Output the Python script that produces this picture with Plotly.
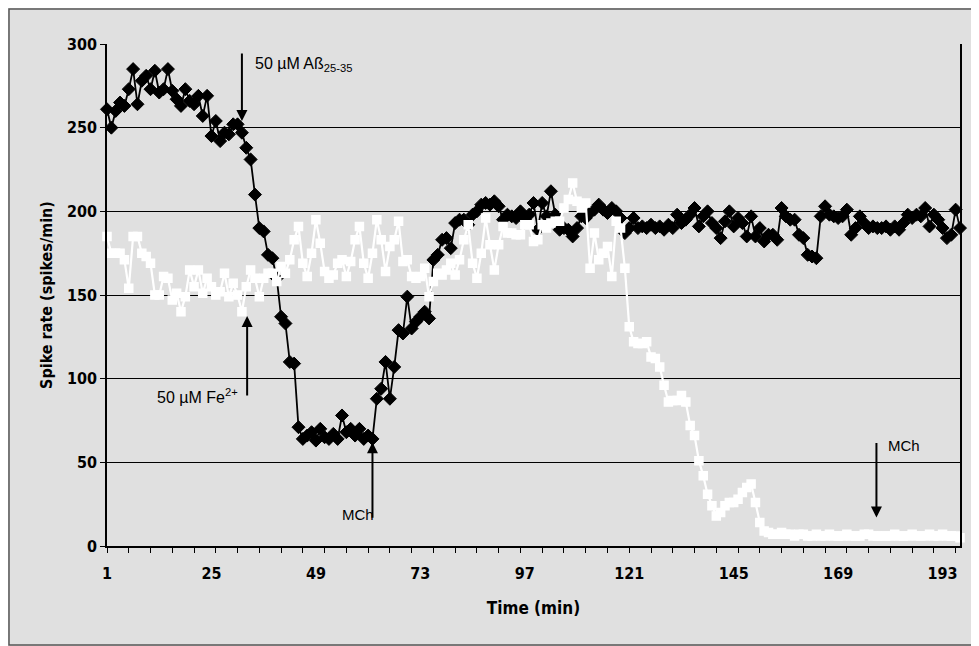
import plotly.graph_objects as go

# ---- data ----
black_ab = [
    261, 250, 260, 265, 263, 273, 285, 264, 278, 281,
    273, 284, 271, 273, 285, 272, 267, 263, 273, 266,
    264, 269, 257, 269, 245, 254, 242, 247, 246, 252,
    252, 247, 238, 231, 210, 190, 188, 174, 172, 160,
    137, 133, 110, 109, 71, 64, 66, 68, 63, 70,
    65, 64, 67, 64, 78, 68, 70, 66, 70, 64,
    66, 64, 88, 94, 110, 88, 107, 129, 127, 149,
    130, 134, 137, 140, 136, 171, 174, 183, 184, 178,
    193, 195, 195, 192, 198, 200, 204, 205, 204, 206,
    203, 195, 198, 197, 196, 200, 195, 198, 205, 189,
    205, 197, 212, 198, 189, 190, 189, 185, 190, 197,
    196, 199, 201, 204, 201, 199, 202, 200, 196, 187,
    190, 196, 190, 191, 190, 192, 190, 191, 189, 192,
    190, 198, 193, 195, 198, 202, 191, 197, 200, 193,
    190, 184, 194, 200, 191, 196, 193, 185, 197, 185,
    190, 182, 186, 186, 183, 202, 197, 195, 195, 186,
    184, 174, 173, 172, 197, 203, 198, 197, 196, 197,
    201, 186, 190, 197, 193, 190, 191, 190, 190, 191,
    189, 191, 189, 193, 198, 196, 198, 197, 202, 191,
    198, 195, 190, 184, 186, 201, 190,
]
white_fe = [
    185, 175, 175, 175, 171, 154, 185, 185, 175, 173,
    169, 150, 150, 161, 160, 147, 151, 140, 149, 165,
    155, 165, 151, 160, 155, 150, 152, 163, 149, 157,
    150, 140, 155, 165, 160, 149, 160, 163, 163, 158,
    167, 163, 171, 183, 191, 169, 161, 175, 195, 181,
    164, 160, 162, 169, 171, 161, 170, 183, 191, 169,
    160, 175, 195, 183, 164, 179, 183, 194, 170, 171,
    161, 160, 161, 166, 149, 158, 163, 162, 165, 169,
    162, 171, 183, 192, 169, 160, 175, 196, 180, 165,
    180, 191, 187, 187, 186, 186, 192, 192, 182, 183,
    192, 190, 193, 194, 194, 202, 207, 217, 206, 202,
    205, 166, 187, 171, 175, 179, 161, 194, 190, 166,
    131, 122, 121, 121, 122, 113, 112, 107, 96, 86,
    87, 87, 90, 86, 72, 66, 51, 42, 31, 24,
    18, 20, 24, 26, 26, 28, 32, 35, 37, 26,
    14, 9, 8, 7, 7, 8, 7, 7, 6, 7,
    7, 6, 6, 7, 6, 6, 7, 6, 6, 6,
    7, 6, 6, 6, 7, 7, 6, 6, 6, 6,
    6, 7, 6, 6, 6, 7, 6, 6, 6, 7,
    6, 6, 7, 6, 6, 6, 5,
]
minutes = list(range(1, len(black_ab) + 1))
x_tick_vals = [1, 25, 49, 73, 97, 121, 145, 169, 193]
x_tick_text = [str(v) for v in x_tick_vals]
y_tick_vals = [0, 50, 100, 150, 200, 250, 300]

BG = "#e0e0e0"
FONT = "DejaVu Sans Condensed, Liberation Sans Narrow, Arial Narrow, sans-serif"
FONT_REG = "Liberation Sans, Arial, sans-serif"

fig = go.Figure()
fig.add_trace(go.Scatter(
    x=minutes, y=black_ab, mode="lines+markers",
    line=dict(color="black", width=1.8),
    marker=dict(symbol="diamond", size=10, color="black",
                line=dict(color="black", width=1)),
    cliponaxis=False, showlegend=False,
))
fig.add_trace(go.Scatter(
    x=minutes[:len(white_fe)], y=white_fe, mode="lines+markers",
    line=dict(color="white", width=2.2),
    marker=dict(symbol="square", size=8, color="white",
                line=dict(color="white", width=1.5)),
    cliponaxis=False, showlegend=False,
))

arrow = dict(showarrow=True, arrowhead=2, arrowsize=1.1, arrowwidth=2,
             arrowcolor="black", text="", axref="pixel", ayref="pixel",
             xref="x", yref="y")
fig.add_annotation(x=32.0, y=254, ax=0, ay=-69, **arrow)
fig.add_annotation(x=33.2, y=137.5, ax=0, ay=81, **arrow)
fig.add_annotation(x=62.0, y=62, ax=0, ay=77, **arrow)
fig.add_annotation(x=177.8, y=17, ax=0, ay=-76, **arrow)

txt = dict(showarrow=False, xref="x", yref="y", xanchor="left", yanchor="middle")
fig.add_annotation(x=34.6, y=288, text="50 µM Aß<sub>25-35</sub>",
                   font=dict(family=FONT_REG, size=16, color="black"), **txt)
fig.add_annotation(x=12.0, y=89.4, text="50 µM Fe<sup>2+</sup>",
                   font=dict(family=FONT_REG, size=16, color="black"), **txt)
fig.add_annotation(x=54.6, y=18.8, text="MCh",
                   font=dict(family=FONT_REG, size=15, color="black"), **txt)
fig.add_annotation(x=180.0, y=60, text="MCh",
                   font=dict(family=FONT_REG, size=15, color="black"), **txt)

# outer frame around the whole picture (paper coords relative to plot area)
fig.add_shape(type="rect", xref="paper", yref="paper",
              x0=-0.1149, x1=1.0211, y0=-0.1972, y1=1.0697,
              line=dict(color="#555555", width=1.5), layer="below")

fig.update_layout(
    width=971, height=638,
    margin=dict(l=99, r=19, t=36, b=100),
    paper_bgcolor=BG, plot_bgcolor=BG,
    font=dict(family=FONT, color="black", size=16),
    xaxis=dict(
        range=[1, 197], tickmode="array", tickvals=x_tick_vals,
        ticktext=x_tick_text, ticks="", showgrid=False, zeroline=False,
        showline=True, linecolor="black", linewidth=1.5,
        ticklabelstandoff=12,
        tickfont=dict(family=FONT, size=16, color="black", weight="bold"),
        title=dict(text="<b>Time (min)</b>", standoff=20,
                   font=dict(family=FONT, size=17, color="black")),
        minor=dict(tickmode="linear", tick0=1, dtick=5, ticks="outside",
                   ticklen=5, tickcolor="black", tickwidth=1.2, showgrid=False),
    ),
    yaxis=dict(
        range=[0, 300], tickmode="array", tickvals=y_tick_vals,
        ticks="outside", ticklen=5, tickcolor="black", tickwidth=1.2,
        showgrid=True, gridcolor="black", gridwidth=1.3, zeroline=False,
        showline=True, linecolor="black", linewidth=1.5, mirror=True,
        tickfont=dict(family=FONT, size=16, color="black", weight="bold"),
        title=dict(text="<b>Spike rate (spikes/min)</b>", standoff=10,
                   font=dict(family=FONT, size=16, color="black")),
    ),
)

fig.write_html("out.html")
